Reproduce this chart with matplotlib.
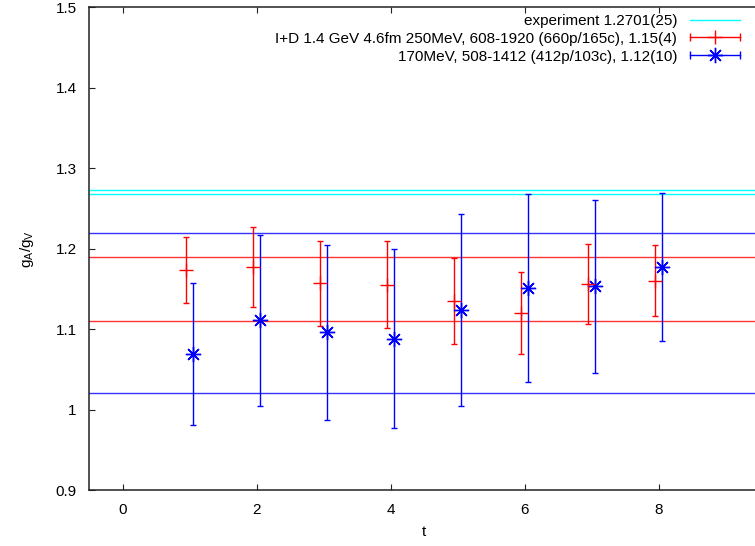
import numpy as np
import matplotlib
matplotlib.use("Agg")
import matplotlib.pyplot as plt
from matplotlib.lines import Line2D
from matplotlib.legend_handler import HandlerLine2D, HandlerTuple
from matplotlib.ticker import FuncFormatter

plt.rcParams['font.family'] = ['Liberation Sans', 'DejaVu Sans']
plt.rcParams['font.size'] = 11

# data
t = np.array([1, 2, 3, 4, 5, 6, 7, 8])
red_val = [1.173, 1.177, 1.157, 1.155, 1.135, 1.120, 1.156, 1.160]
red_err = [0.041, 0.050, 0.053, 0.054, 0.053, 0.051, 0.050, 0.044]
blue_val = [1.069, 1.111, 1.096, 1.088, 1.124, 1.151, 1.153, 1.177]
blue_err = [0.088, 0.106, 0.109, 0.111, 0.119, 0.117, 0.107, 0.092]

exp_val, exp_err = 1.2701, 0.0025
red_fit, red_fit_err = 1.15, 0.04
blue_fit, blue_fit_err = 1.12, 0.10

labels = ["experiment 1.2701(25)",
          "I+D 1.4 GeV 4.6fm 250MeV, 608-1920 (660p/165c), 1.15(4)",
          "170MeV, 508-1412 (412p/103c), 1.12(10)"]

RED = '#ff0000'
BLUE = '#0000ff'
CYAN = '#00ffff'

fig = plt.figure(figsize=(7.55, 5.46), dpi=100)
ax = fig.add_axes([89.2/755, 1-490/546, 670/755, (490-7.3)/546])

# bands (upper/lower edges)
for y in (exp_val + exp_err, exp_val - exp_err):
    ax.axhline(y, color=CYAN, lw=1.0)
for y in (red_fit + red_fit_err, red_fit - red_fit_err):
    ax.axhline(y, color=RED, lw=1.0, alpha=0.8)
for y in (blue_fit + blue_fit_err, blue_fit - blue_fit_err):
    ax.axhline(y, color=BLUE, lw=1.0, alpha=0.8)

ax.errorbar(t - 0.05, red_val, yerr=red_err, fmt='+', color=RED, ms=10,
            mew=1.0, elinewidth=1.0, capsize=2.3, capthick=1.0)
ax.errorbar(t + 0.05, blue_val, yerr=blue_err, fmt='none', ecolor=BLUE,
            elinewidth=1.0, capsize=2.3, capthick=1.0)
ax.plot(t + 0.05, blue_val, ls='', marker=(8, 2, 0), color=BLUE, ms=11, mew=1.0)

ax.set_xlim(-0.5, 9.5)
ax.set_ylim(0.9, 1.5)
ax.set_xticks([0, 2, 4, 6, 8])
ax.set_yticks([0.9, 1.0, 1.1, 1.2, 1.3, 1.4, 1.5])
ax.yaxis.set_major_formatter(FuncFormatter(lambda v, p: f'{v:g}'))
ax.tick_params(direction='in', length=4.5, width=0.8, pad=9, top=True,
               colors='#222222', labelcolor='black')
ax.spines['right'].set_visible(False)
for s in ('left', 'bottom', 'top'):
    ax.spines[s].set_linewidth(1.1)
    ax.spines[s].set_color('#222222')

ax.set_xlabel('t', labelpad=6)
ax.set_ylabel(r'$\mathregular{g_A/g_V}$', labelpad=14)

# gnuplot style legend: text right, sample with end caps
h_exp = Line2D([], [], color=CYAN, lw=1.0)
h_red = Line2D([], [], color=RED, lw=1.0, marker='+', ms=10)
c_red = Line2D([], [], color=RED, ls='', marker='|', ms=6)
h_blue = Line2D([], [], color=BLUE, lw=1.0, marker=(8, 2, 0), ms=11)
c_blue = Line2D([], [], color=BLUE, ls='', marker='|', ms=6)
caps = HandlerLine2D(numpoints=2, marker_pad=0)
leg = fig.legend([h_exp, (h_red, c_red), (h_blue, c_blue)], labels,
                 loc='upper right', bbox_to_anchor=(740/755, 1-14/546),
                 frameon=False, markerfirst=False, borderpad=0, borderaxespad=0,
                 handlelength=3.3, handletextpad=0.8, labelspacing=0.25,
                 handler_map={tuple: HandlerTuple(ndivide=1, pad=0),
                              c_red: caps, c_blue: caps})

fig.savefig('out.png', dpi=100)
